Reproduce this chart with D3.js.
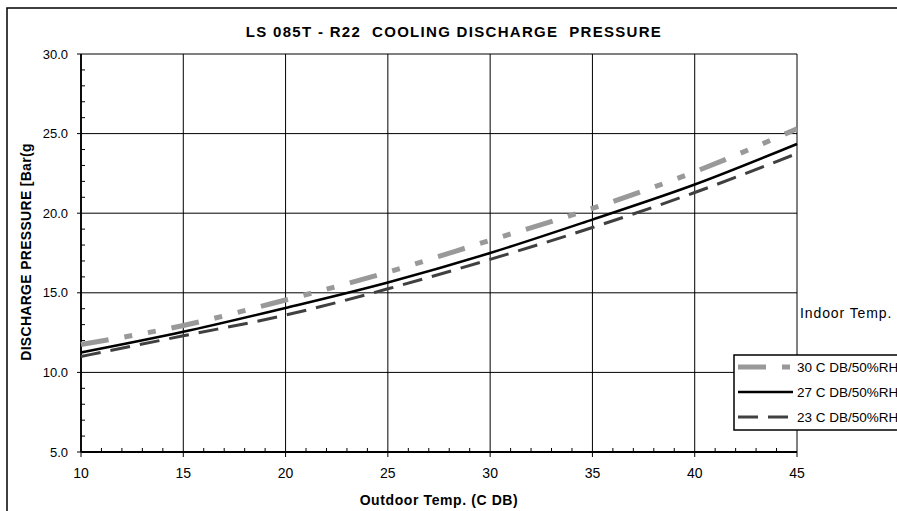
<!DOCTYPE html>
<html lang="en">
<head>
<meta charset="utf-8">
<title>LS 085T - R22 Cooling Discharge Pressure</title>
<script src="https://cdn.jsdelivr.net/npm/d3@7"></script>
<style>
  body { margin: 0; background: #fff; }
  svg { display: block; font-family: Arial, "Liberation Sans", sans-serif; }
</style>
</head>
<body>
<script>
// data
var outdoorTemp = [10, 15, 20, 25, 30, 35, 40, 45];
var press30 = [11.75, 12.95, 14.55, 16.3, 18.3, 20.3, 22.6, 25.3];
var press27 = [11.25, 12.55, 14.05, 15.65, 17.5, 19.6, 21.8, 24.35];
var press23 = [11.0, 12.3, 13.6, 15.25, 17.1, 19.1, 21.3, 23.75];
var seriesNames = ["30 C DB/50%RH", "27 C DB/50%RH", "23 C DB/50%RH"];
var xTicks = [10, 15, 20, 25, 30, 35, 40, 45];
var yTicks = [5, 10, 15, 20, 25, 30];

var width = 897, height = 511;
// plot box (note: "top" is reserved on window, so use other names)
var plotL = 81, plotR = 797, plotT = 54, plotB = 452;

var svg = d3.select("body").append("svg")
  .attr("width", width)
  .attr("height", height);

// outer chart frame (runs off the picture on the right and bottom)
svg.append("rect")
  .attr("x", 7).attr("y", 8)
  .attr("width", 1000).attr("height", 600)
  .attr("fill", "none")
  .attr("stroke", "#000")
  .attr("stroke-width", 1.5);

var x = d3.scaleLinear().domain([10, 45]).range([plotL, plotR]);
var y = d3.scaleLinear().domain([5, 30]).range([plotB, plotT]);

// title
svg.append("text")
  .attr("x", 454).attr("y", 37)
  .attr("text-anchor", "middle")
  .attr("xml:space", "preserve")
  .style("font-size", "15px")
  .style("font-weight", "bold")
  .style("letter-spacing", "1.3px")
  .text("LS 085T - R22  COOLING DISCHARGE  PRESSURE");

// gridlines
svg.append("g").selectAll("line")
  .data(yTicks)
  .enter().append("line")
  .attr("x1", plotL - 4).attr("x2", plotR)
  .attr("y1", function(d) { return y(d); })
  .attr("y2", function(d) { return y(d); })
  .attr("stroke", "#000").attr("stroke-width", 1);

svg.append("g").selectAll("line")
  .data(xTicks)
  .enter().append("line")
  .attr("x1", function(d) { return x(d); })
  .attr("x2", function(d) { return x(d); })
  .attr("y1", plotT).attr("y2", plotB + 5)
  .attr("stroke", "#000").attr("stroke-width", 1);

// minor ticks, inward
var minorX = d3.range(10, 46).filter(function(d) { return d % 5 !== 0; });
var minorY = d3.range(5, 31).filter(function(d) { return d % 5 !== 0; });

svg.append("g").selectAll("line")
  .data(minorX)
  .enter().append("line")
  .attr("x1", function(d) { return x(d); })
  .attr("x2", function(d) { return x(d); })
  .attr("y1", plotB).attr("y2", plotB - 4)
  .attr("stroke", "#000");

svg.append("g").selectAll("line")
  .data(minorY)
  .enter().append("line")
  .attr("x1", plotL).attr("x2", plotL + 4)
  .attr("y1", function(d) { return y(d); })
  .attr("y2", function(d) { return y(d); })
  .attr("stroke", "#000");

// axis lines
svg.append("line")
  .attr("x1", plotL).attr("x2", plotL)
  .attr("y1", plotT).attr("y2", plotB)
  .attr("stroke", "#000").attr("stroke-width", 1.8);
svg.append("line")
  .attr("x1", plotL).attr("x2", plotR)
  .attr("y1", plotB).attr("y2", plotB)
  .attr("stroke", "#000").attr("stroke-width", 1.8);

// tick labels
svg.append("g").selectAll("text")
  .data(yTicks)
  .enter().append("text")
  .attr("x", 68)
  .attr("y", function(d) { return y(d) + 4.5; })
  .attr("text-anchor", "end")
  .style("font-size", "13px")
  .text(function(d) { return d3.format(".1f")(d); });

svg.append("g").selectAll("text")
  .data(xTicks)
  .enter().append("text")
  .attr("x", function(d) { return x(d); })
  .attr("y", 478)
  .attr("text-anchor", "middle")
  .style("font-size", "14px")
  .text(function(d) { return d; });

// axis titles
svg.append("text")
  .attr("x", 439).attr("y", 505)
  .attr("text-anchor", "middle")
  .style("font-size", "14px")
  .style("font-weight", "bold")
  .style("letter-spacing", "0.6px")
  .text("Outdoor Temp. (C DB)");

svg.append("text")
  .attr("transform", "translate(31,252) rotate(-90)")
  .attr("text-anchor", "middle")
  .style("font-size", "14px")
  .style("font-weight", "bold")
  .style("letter-spacing", "0.3px")
  .text("DISCHARGE PRESSURE [Bar(g");

// series
var styles = [
  { values: press30, color: "#999999", width: 5, dash: "28,16,8,16,8,16" },
  { values: press27, color: "#000000", width: 2.5, dash: null },
  { values: press23, color: "#404040", width: 3, dash: "20,10" }
];

var line = d3.line()
  .x(function(d) { return x(d[0]); })
  .y(function(d) { return y(d[1]); })
  .curve(d3.curveMonotoneX);

styles.forEach(function(s) {
  svg.append("path")
    .datum(d3.zip(outdoorTemp, s.values))
    .attr("d", line)
    .attr("fill", "none")
    .attr("stroke", s.color)
    .attr("stroke-width", s.width)
    .attr("stroke-dasharray", s.dash);
});

// "Indoor Temp." label
svg.append("text")
  .attr("x", 800).attr("y", 318)
  .style("font-size", "14px")
  .style("letter-spacing", "0.9px")
  .text("Indoor Temp.");

// legend
var lg = svg.append("g");
lg.append("rect")
  .attr("x", 734).attr("y", 355)
  .attr("width", 200).attr("height", 75)
  .attr("fill", "#fff")
  .attr("stroke", "#000")
  .attr("stroke-width", 1.5);

styles.forEach(function(s, i) {
  var ly = 367 + i * 25;
  lg.append("line")
    .attr("x1", 738).attr("x2", 793)
    .attr("y1", ly).attr("y2", ly)
    .attr("stroke", s.color)
    .attr("stroke-width", s.width)
    .attr("stroke-dasharray", s.dash);
  lg.append("text")
    .attr("x", 797).attr("y", ly + 5)
    .style("font-size", "13.5px")
    .text(seriesNames[i]);
});
</script>
</body>
</html>
